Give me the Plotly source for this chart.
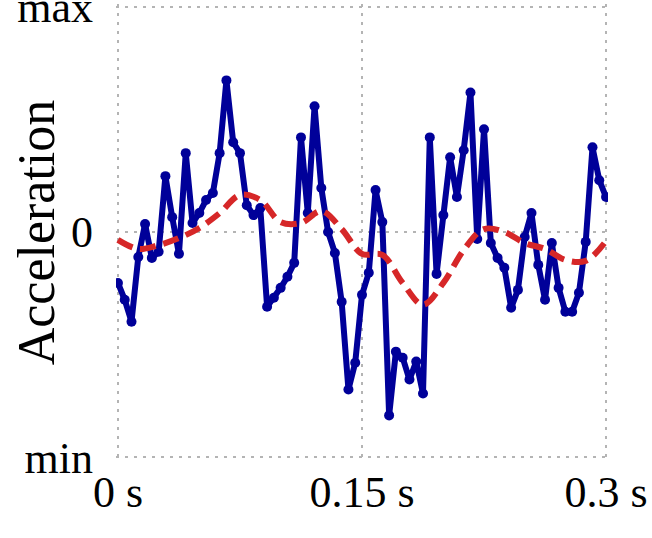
import plotly.graph_objects as go

# time samples (s)
n_points = 73
t_end = 0.3
time_s = [i * t_end / (n_points - 1) for i in range(n_points)]

# measured acceleration (normalised, -1 = min, 1 = max)
accel = [
    -0.226, -0.301, -0.398, -0.111, 0.035, -0.115, -0.088, 0.248, 0.066, -0.097,
    0.350, 0.040, 0.084, 0.142, 0.173, 0.350, 0.673, 0.398, 0.350, 0.119,
    0.075, 0.106, -0.332, -0.292, -0.248, -0.199, -0.137, 0.420, 0.084, 0.558,
    0.195, 0.000, -0.093, -0.310, -0.699, -0.580, -0.279, -0.181, 0.186, 0.044,
    -0.814, -0.531, -0.558, -0.655, -0.575, -0.717, 0.420, -0.186, 0.075, 0.332,
    0.155, 0.363, 0.619, -0.031, 0.456, -0.049, -0.115, -0.159, -0.336, -0.257,
    -0.022, 0.084, -0.146, -0.301, -0.049, -0.248, -0.354, -0.354, -0.270, -0.044,
    0.376, 0.230, 0.155,
]

# smooth (filtered) signal, sampled every 0.0125 s
smooth_t = [i * 0.0125 for i in range(25)]
smooth = [
    -0.035, -0.075, -0.058, -0.027, 0.018, 0.084, 0.164, 0.142, 0.044, 0.040,
    0.093, 0.013, -0.097, -0.102, -0.226, -0.323, -0.226, -0.080, 0.013, 0.000,
    -0.049, -0.075, -0.124, -0.128, -0.040,
]

y_tickvals = [-1, 0, 1]
y_ticktext = ["min", "0", "max"]
x_tickvals = [0, 0.15, 0.3]
x_ticktext = ["0 s", "0.15 s", "0.3 s"]

serif = "Liberation Serif, DejaVu Serif, serif"

fig = go.Figure()
fig.add_trace(go.Scatter(
    x=time_s, y=accel, mode="lines+markers",
    line=dict(color="#000099", width=6),
    marker=dict(color="#000099", size=10),
    showlegend=False,
))
fig.add_trace(go.Scatter(
    x=smooth_t, y=smooth, mode="lines",
    line=dict(color="#d62728", width=6, dash="16px,8px", shape="spline", smoothing=1.0),
    showlegend=False,
))

grid = dict(showgrid=True, gridcolor="#b4b4b4", gridwidth=2, griddash="3px,6px",
            zeroline=False, showline=False, ticks="", ticklabeloverflow="allow")

fig.update_layout(
    width=652, height=538,
    margin=dict(l=116, r=44, t=4, b=78, autoexpand=False),
    paper_bgcolor="white", plot_bgcolor="white",
    font=dict(family=serif, color="black", size=44),
    xaxis=dict(range=[-0.0012, 0.3012], tickvals=x_tickvals, ticktext=x_ticktext,
               tickfont=dict(size=44), ticklabelstandoff=2, automargin=False, **grid),
    yaxis=dict(range=[-1.012, 1.012], tickvals=y_tickvals, ticktext=y_ticktext,
               tickfont=dict(size=44), ticklabelstandoff=22, automargin=False, **grid),
    annotations=[dict(
        text="Acceleration", textangle=-90, showarrow=False,
        xref="paper", yref="paper", x=-0.162, y=0.5,
        xanchor="center", yanchor="middle",
        font=dict(family=serif, size=52, color="black"),
    )],
)

fig.write_html("out.html", config={"displayModeBar": False},
               post_script="document.body.style.margin='0px';")
